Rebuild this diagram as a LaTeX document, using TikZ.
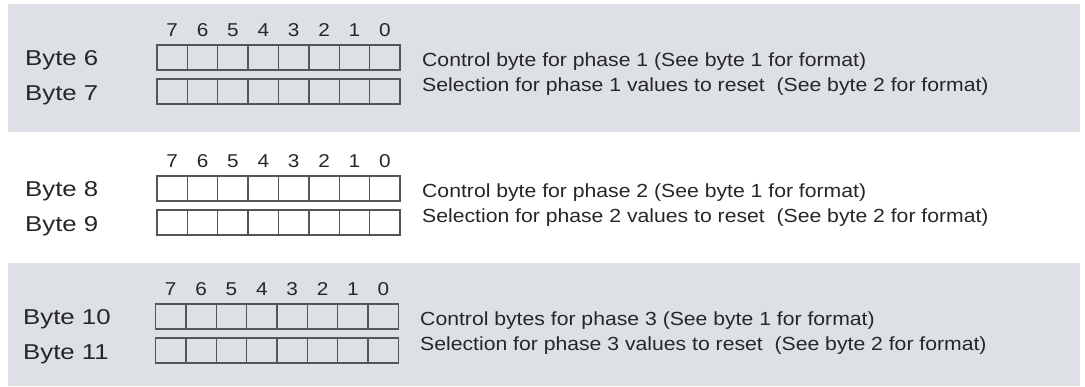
\documentclass[tikz,border=0pt]{standalone}
\usepackage{fontspec}
\setmainfont{Liberation Sans}
\newfontfamily\descfont[FakeStretch=1.115]{Liberation Sans}
\newfontfamily\bytefont[FakeStretch=1.2]{Liberation Sans}
\definecolor{panelgray}{RGB}{221,224,228}
\definecolor{ink}{RGB}{38,38,38}
\definecolor{cellline}{RGB}{85,85,85}
\begin{document}
\begin{tikzpicture}[x=1pt,y=-1pt,
  cell/.style={draw=cellline, line width=1.3pt, minimum width=30.375pt, minimum height=25pt, inner sep=0pt, outer sep=0pt, anchor=north west},
  bitnum/.style={font=\descfont\fontsize{18.6}{20}\selectfont, text=ink, anchor=base, inner sep=0pt},
  bytelbl/.style={font=\bytefont\fontsize{21.5}{24}\selectfont, text=ink, anchor=base west, inner sep=0pt},
  desc/.style={font=\descfont\fontsize{19}{22}\selectfont, text=ink, anchor=base west, inner sep=0pt}]
\useasboundingbox (0,0) rectangle (1085,386);
\fill[panelgray] (8,4) rectangle (1080,132);
\fill[panelgray] (8,263) rectangle (1080,386);
% panels: offset, first byte, label x, box x
\foreach \o/\a/\b/\lx/\bx/\p in {0/6/7/25/157/1, 131/8/9/25/157/2, 259/10/11/23/155.5/3}{
  \foreach \i in {0,...,7}{
    \pgfmathtruncatemacro{\bit}{7-\i}
    \node[bitnum] (n\a-\bit) at ({\bx+15.19+30.375*\i},36+\o) {\bit};
    \node[cell] (c\a-\bit) at ({\bx+30.375*\i},45+\o) {};
    \node[cell] (c\b-\bit) at ({\bx+30.375*\i},79+\o) {};
  }
  \node[bytelbl] (l\a) at (\lx,65+\o) {Byte \a};
  \node[bytelbl] (l\b) at (\lx,100+\o) {Byte \b};
}
\node[desc] (d6) at (422,66) {Control byte for phase 1 (See byte 1 for format)};
\node[desc] (d7) at (422,91.5) {Selection for phase 1 values to reset\ \ (See byte 2 for format)};
\node[desc] (d8) at (422,197) {Control byte for phase 2 (See byte 1 for format)};
\node[desc] (d9) at (422,222.5) {Selection for phase 2 values to reset\ \ (See byte 2 for format)};
\node[desc] (d10) at (420,325) {Control bytes for phase 3 (See byte 1 for format)};
\node[desc] (d11) at (420,350.5) {Selection for phase 3 values to reset\ \ (See byte 2 for format)};
\end{tikzpicture}
\end{document}
